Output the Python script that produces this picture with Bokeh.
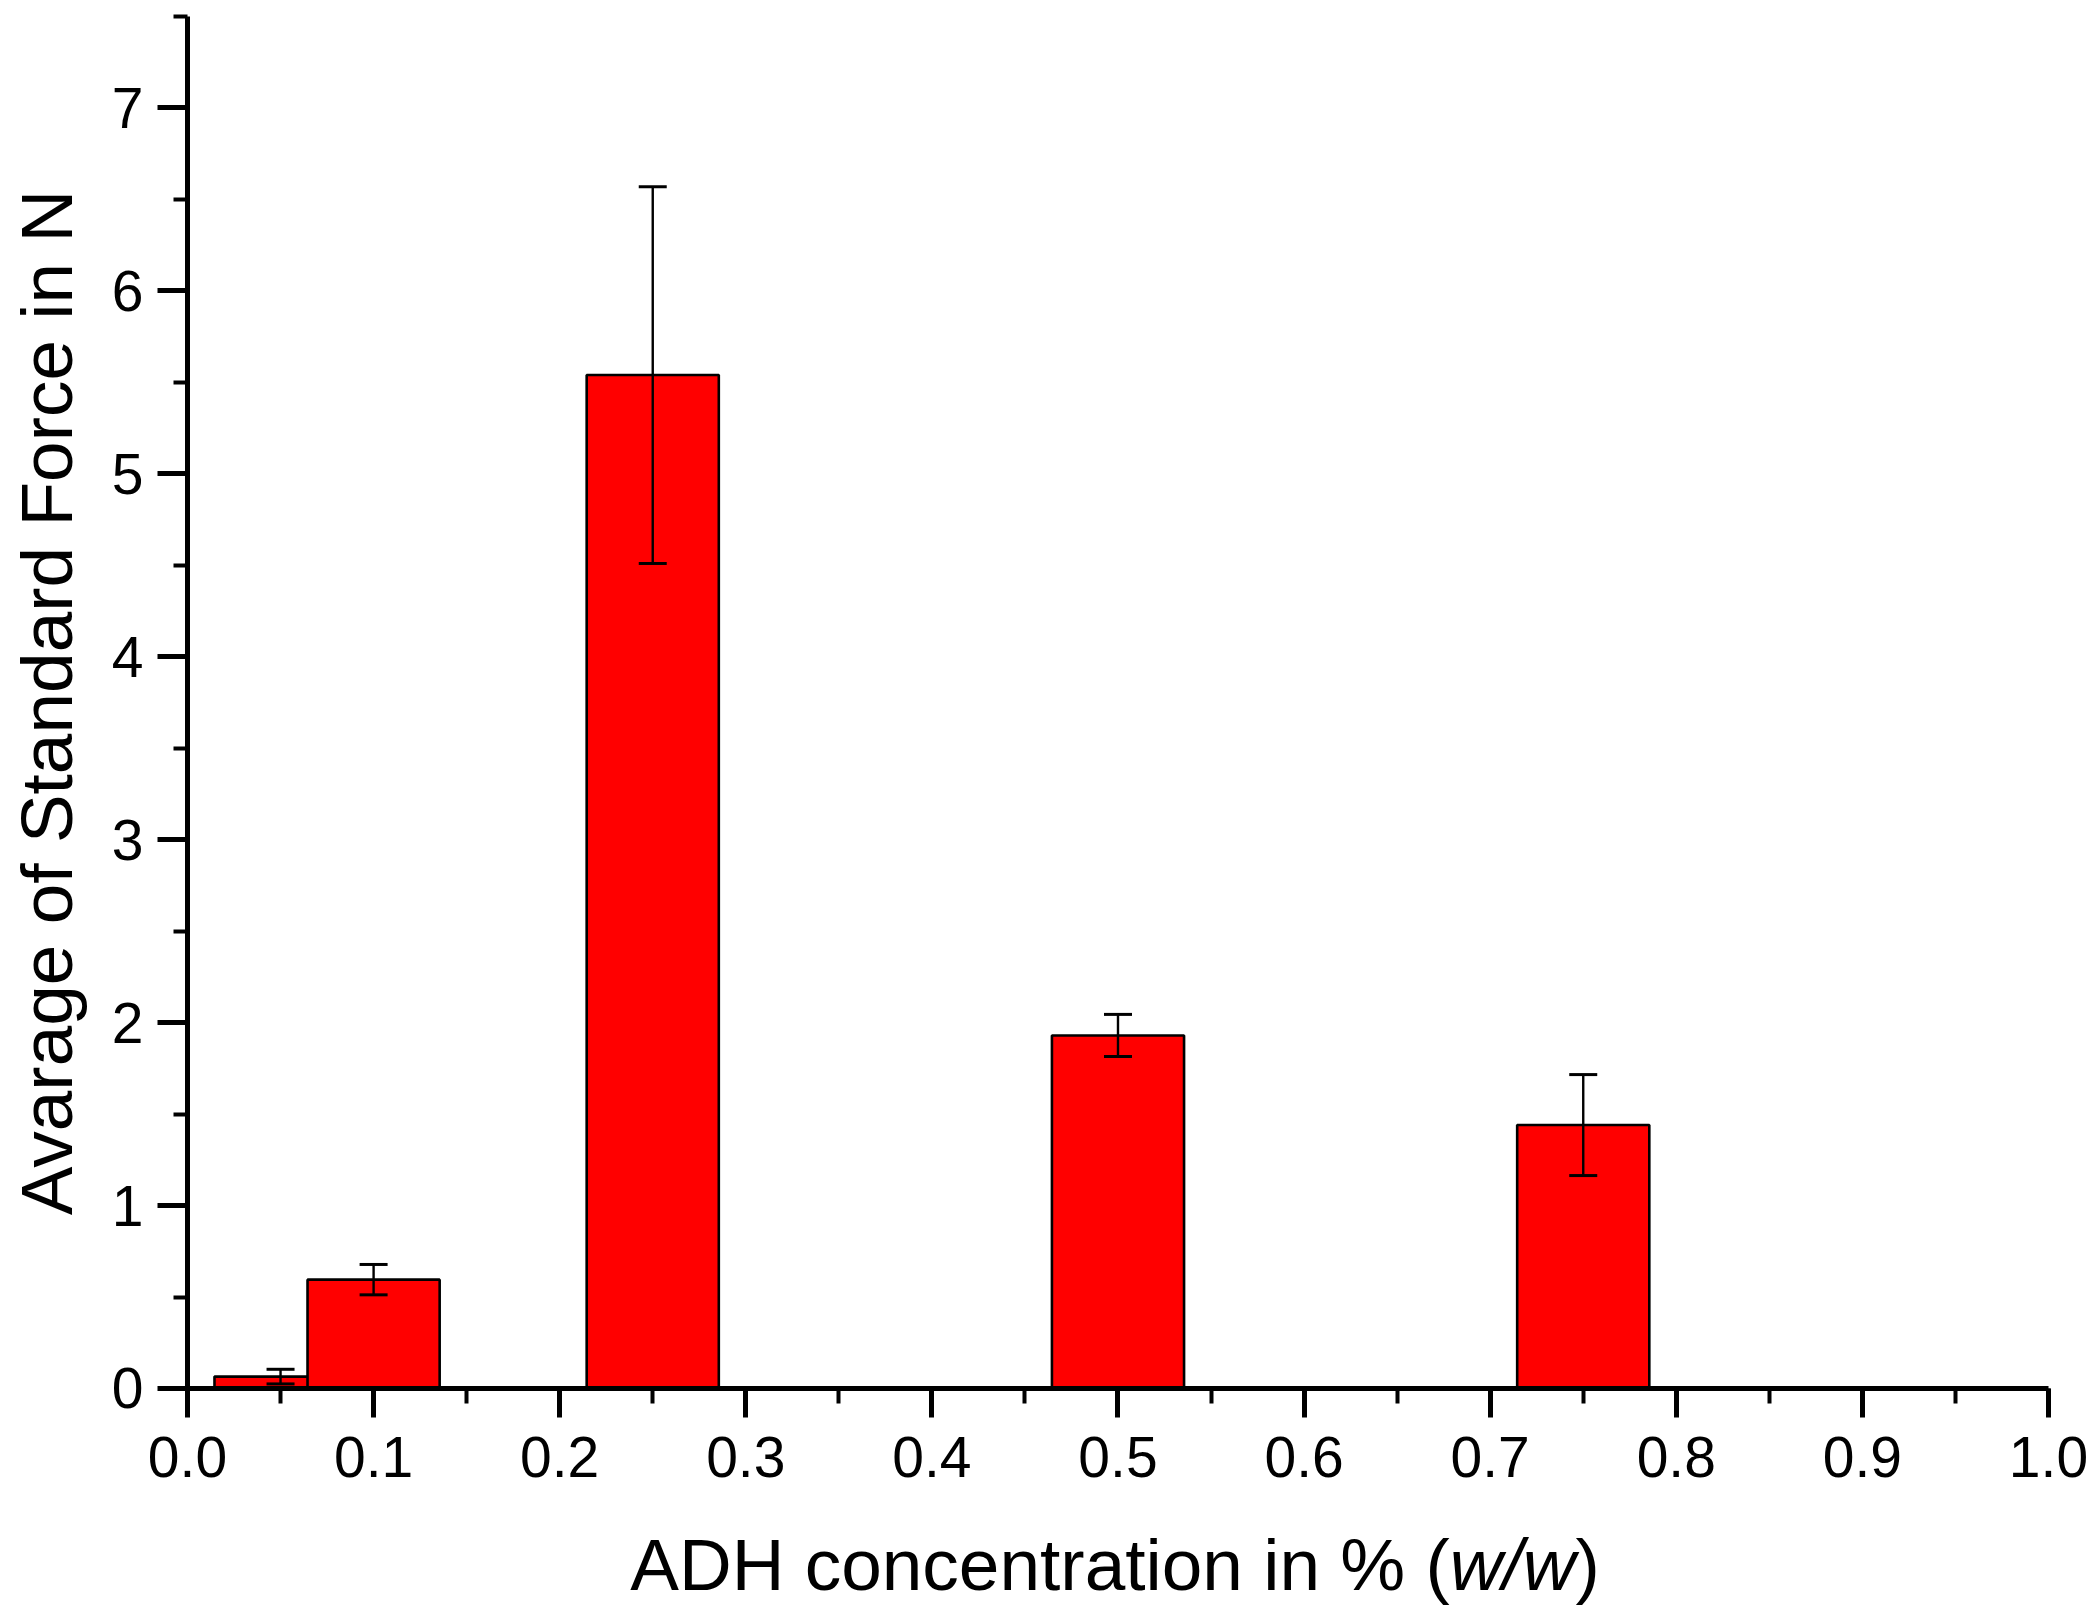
from math import pi
from bokeh.plotting import figure
from bokeh.models import (SingleIntervalTicker, PrintfTickFormatter, Whisker, TeeHead,
                          ColumnDataSource, Label, Range1d)
from bokeh.embed import file_html
from bokeh.resources import INLINE

# ---- data ----
conc = [0.05, 0.1, 0.25, 0.5, 0.75]          # ADH concentration in % (w/w)
force = [0.065, 0.595, 5.54, 1.93, 1.44]      # average standard force in N
err = [0.04, 0.083, 1.03, 0.115, 0.276]       # error (+/-)

x_axis_bounds = (0.0, 1.0)
y_axis_bounds = (0.0, 7.5)

x_label_main = "ADH concentration in % ("
x_label_ital = "w/w"
x_label_end = ")"
y_label = "Avarage of Standard Force in N"

FONT = "Liberation Sans"

src = ColumnDataSource(dict(
    x=conc, top=force,
    upper=[f + e for f, e in zip(force, err)],
    lower=[f - e for f, e in zip(force, err)],
))

# the frame covers the whole canvas; axes are placed at fixed locations inside it
p = figure(width=2099, height=1622,
           x_range=Range1d(-0.10048, 1.02741), y_range=Range1d(-1.2792, 7.5875),
           output_backend="svg", toolbar_location=None,
           min_border=0, min_border_left=0, min_border_right=0,
           min_border_top=0, min_border_bottom=0)

p.vbar(x="x", top="top", bottom=0, width=0.071, source=src,
       fill_color="#ff0000", line_color="black", line_width=2.6)

w = Whisker(base="x", upper="upper", lower="lower", source=src,
            line_color="black", line_width=2.4, level="overlay",
            upper_head=TeeHead(size=28, line_color="black", line_width=3),
            lower_head=TeeHead(size=28, line_color="black", line_width=3))
p.add_layout(w)

p.xgrid.visible = False
p.ygrid.visible = False
p.outline_line_color = None
p.background_fill_color = "white"
p.border_fill_color = "white"

# x axis
xa = p.xaxis[0]
xa.fixed_location = 0
xa.bounds = x_axis_bounds
xa.ticker = SingleIntervalTicker(interval=0.1, num_minor_ticks=2)
xa.formatter = PrintfTickFormatter(format="%.1f")
xa.axis_line_width = 5
xa.axis_line_color = "black"
xa.major_tick_line_width = 5
xa.minor_tick_line_width = 4
xa.major_tick_line_color = "black"
xa.minor_tick_line_color = "black"
xa.major_tick_out = 29
xa.major_tick_in = 0
xa.minor_tick_out = 15
xa.minor_tick_in = 0
xa.major_label_text_font = FONT
xa.major_label_text_font_size = "57px"
xa.major_label_text_color = "black"
xa.major_label_standoff = 20

# y axis
ya = p.yaxis[0]
ya.fixed_location = 0
ya.bounds = y_axis_bounds
ya.ticker = SingleIntervalTicker(interval=1, num_minor_ticks=2)
ya.axis_line_width = 5
ya.axis_line_color = "black"
ya.major_tick_line_width = 5
ya.minor_tick_line_width = 4
ya.major_tick_line_color = "black"
ya.minor_tick_line_color = "black"
ya.major_tick_out = 30
ya.major_tick_in = 0
ya.minor_tick_out = 14
ya.minor_tick_in = 0
ya.major_label_text_font = FONT
ya.major_label_text_font_size = "57px"
ya.major_label_text_color = "black"
ya.major_label_standoff = 14

# axis titles (as labels so that w/w can be italic)
LS = "73px"
XL_Y = -0.962
p.add_layout(Label(x=0.6783, y=XL_Y, text=x_label_main, text_align="right",
                   text_baseline="alphabetic", text_font=FONT, text_font_size=LS,
                   text_color="black"))
p.add_layout(Label(x=0.6783, y=XL_Y, text=x_label_ital, text_align="left",
                   text_baseline="alphabetic", text_font=FONT, text_font_size=LS,
                   text_font_style="italic", text_color="black"))
p.add_layout(Label(x=0.7458, y=XL_Y, text=x_label_end, text_align="left",
                   text_baseline="alphabetic", text_font=FONT, text_font_size=LS,
                   text_color="black"))
p.add_layout(Label(x=-0.0758, y=3.75, text=y_label, angle=pi / 2,
                   text_align="center", text_baseline="alphabetic",
                   text_font=FONT, text_font_size=LS, text_color="black"))

open("out.html", "w").write(file_html(p, INLINE))
